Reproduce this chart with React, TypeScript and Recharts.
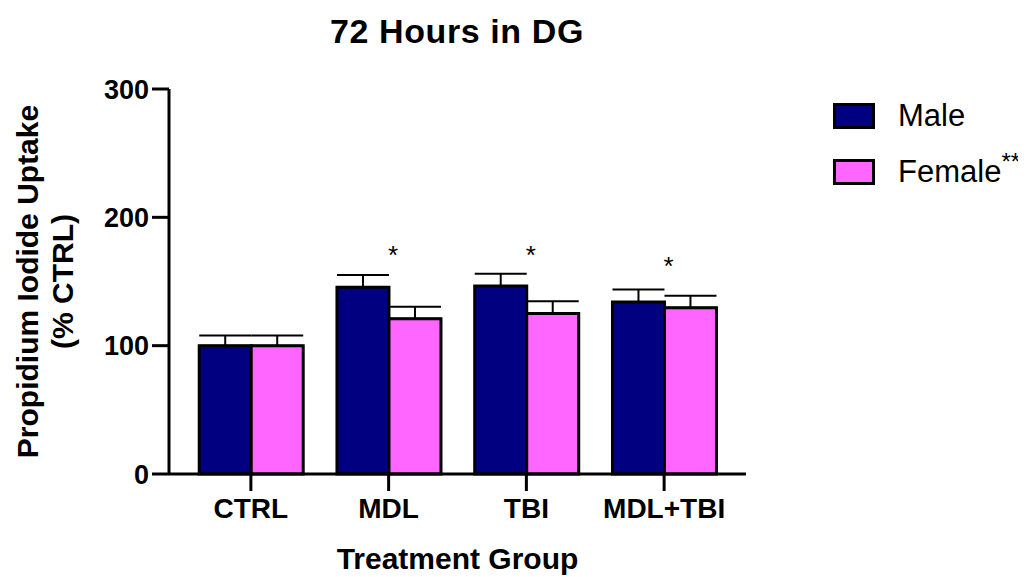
import React from "react";
import { BarChart, Bar, XAxis, YAxis, ErrorBar, LabelList } from "recharts";

const groups = ["CTRL", "MDL", "TBI", "MDL+TBI"];
const maleValues = [100, 145.5, 146.5, 134];
const maleErrors = [8, 9.6, 9.6, 9.8];
const femaleValues = [100, 121, 125, 129.5];
const femaleErrors = [8, 9.3, 9.6, 9.3];
// where the significance star sits (in % CTRL units), null = no star
const starLevels = [null, 174.5, 174.5, 166];
const yTicks = [0, 100, 200, 300];

const FONT = "Arial, 'Liberation Sans', Helvetica, sans-serif";
const NAVY = "#000080";
const PINK = "#FF66FF";

const data = groups.map((g, i) => ({
  group: g,
  male: maleValues[i],
  maleErr: [0, maleErrors[i]],
  female: femaleValues[i],
  femaleErr: [0, femaleErrors[i]],
  star: starLevels[i],
}));

const StarLabel = (props: any) => {
  const { x, y, height, index } = props;
  const level = starLevels[index];
  if (level == null) return null;
  const perUnit = height / femaleValues[index];
  const base = y + height;
  const cy = base - level * perUnit;
  return (
    <text
      x={x + 4}
      y={cy + 14}
      textAnchor="middle"
      fontFamily={FONT}
      fontSize={26}
      fill="#000"
    >
      *
    </text>
  );
};

const legendItems = [
  { name: "Male", color: NAVY, sup: "" },
  { name: "Female", color: PINK, sup: "**" },
];

const LegendBox = () => (
  <div style={{ position: "absolute", left: 825, top: 96, fontFamily: FONT }}>
    {legendItems.map((it) => (
      <div
        key={it.name}
        style={{ display: "flex", alignItems: "center", height: 24, marginBottom: 32 }}
      >
        <div
          style={{
            width: 36,
            height: 20,
            background: it.color,
            border: "3px solid #000",
          }}
        />
        <span style={{ marginLeft: 23, fontSize: 31, color: "#000", whiteSpace: "nowrap" }}>
          {it.name}
          {it.sup && (
            <span style={{ fontSize: 24, position: "relative", top: -12 }}>{it.sup}</span>
          )}
        </span>
      </div>
    ))}
  </div>
);

export default function App() {
  return (
    <div style={{ position: "relative", width: 1010, height: 569, background: "#fff" }}>
      <div
        style={{
          position: "absolute",
          left: 0,
          top: 4,
          width: 898,
          textAlign: "center",
          fontFamily: FONT,
          fontWeight: "bold",
          fontSize: 34,
          letterSpacing: 0.6,
          color: "#000",
        }}
      >
        72 Hours in DG
      </div>
      <LegendBox />
      <BarChart
        width={1010}
        height={569}
        data={data}
        margin={{ top: 81, right: 272, left: 61, bottom: 43 }}
        barCategoryGap="12.5%"
        barGap={0}
      >
        <XAxis
          dataKey="group"
          height={60}
          padding={{ left: 13, right: 13 }}
          tickSize={17}
          tickMargin={7}
          axisLine={{ stroke: "#000", strokeWidth: 3 }}
          tickLine={{ stroke: "#000", strokeWidth: 3 }}
          tick={{ fill: "#000", fontFamily: FONT, fontWeight: "bold", fontSize: 28 }}
          label={{
            content: (p: any) => {
              const vb = p.viewBox;
              return (
                <text
                  x={vb.x + vb.width / 2}
                  y={vb.y + 95}
                  textAnchor="middle"
                  fontFamily={FONT}
                  fontWeight="bold"
                  fontSize={30}
                  fill="#000"
                >
                  Treatment Group
                </text>
              );
            },
          }}
        />
        <YAxis
          width={100}
          domain={[0, 300]}
          ticks={yTicks}
          tickSize={17}
          tickMargin={3}
          axisLine={{ stroke: "#000", strokeWidth: 3 }}
          tickLine={{ stroke: "#000", strokeWidth: 3 }}
          tick={{ fill: "#000", fontFamily: FONT, fontWeight: "bold", fontSize: 27 }}
          label={{
            content: (p: any) => {
              const vb = p.viewBox;
              const cy = vb.y + vb.height / 2;
              return (
                <g fontFamily={FONT} fontWeight="bold" fontSize={30} fill="#000">
                  <text
                    x={19}
                    y={cy}
                    textAnchor="middle"
                    dominantBaseline="central"
                    transform={`rotate(-90 19 ${cy})`}
                  >
                    Propidium Iodide Uptake
                  </text>
                  <text
                    x={54}
                    y={cy}
                    textAnchor="middle"
                    dominantBaseline="central"
                    transform={`rotate(-90 54 ${cy})`}
                  >
                    (% CTRL)
                  </text>
                </g>
              );
            },
          }}
        />
        <Bar
          dataKey="male"
          name="Male"
          fill={NAVY}
          stroke="#000"
          strokeWidth={3}
          isAnimationActive={false}
        >
          <ErrorBar dataKey="maleErr" direction="y" width={26} stroke="#000" strokeWidth={2} />
        </Bar>
        <Bar
          dataKey="female"
          name="Female"
          fill={PINK}
          stroke="#000"
          strokeWidth={3}
          isAnimationActive={false}
        >
          <ErrorBar dataKey="femaleErr" direction="y" width={26} stroke="#000" strokeWidth={2} />
          <LabelList dataKey="star" content={<StarLabel />} />
        </Bar>
      </BarChart>
    </div>
  );
}
